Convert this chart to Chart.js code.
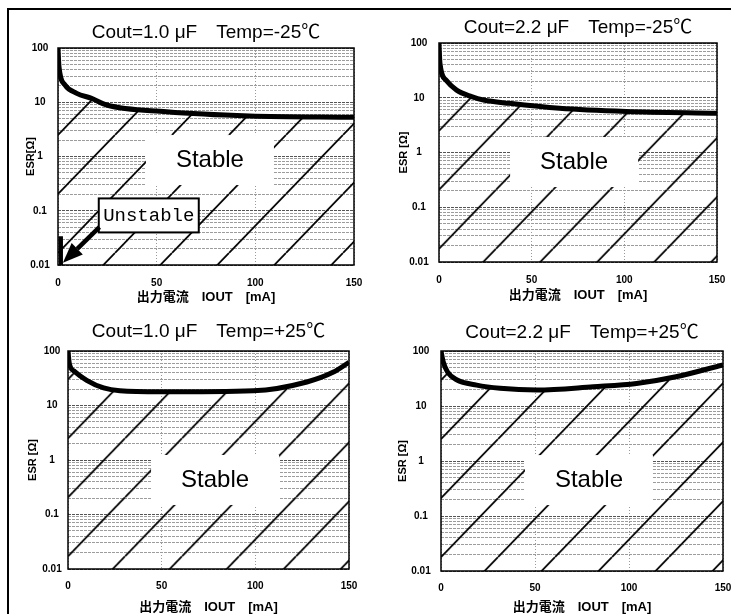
<!DOCTYPE html>
<html lang="ja">
<head>
<meta charset="UTF-8">
<title>ESR - IOUT 安定領域</title>
<script src="https://cdn.jsdelivr.net/npm/chart.js"></script>
<style>
    body {
        margin: 0;
        width: 731px;
        height: 614px;
        background: #fff;
        position: relative;
        overflow: hidden;
    }
    .frame {
        position: absolute;
        left: 7px;
        top: 8px;
        width: 760px;
        height: 640px;
        border-left: 2px solid #000;
        border-top: 2px solid #000;
    }
    canvas {
        position: absolute;
    }
</style>
</head>
<body>
<div class="frame"></div>
<canvas id="p1"></canvas>
<canvas id="p2"></canvas>
<canvas id="p3"></canvas>
<canvas id="p4"></canvas>

<script>
// 境界曲線 (IOUT [mA], ESR [Ω]) 読み取り値
const iout1 = [0, 0.5, 3.5, 9.5, 17, 24.6, 55, 97, 150];
const esr1 = [100, 45, 21, 14.6, 11.8, 8.9, 6.7, 5.6, 5.3];

const iout2 = [0, 0.5, 3.8, 9.5, 17.6, 24, 38, 65, 101, 150];
const esr2 = [100, 43, 21, 13.8, 10.5, 9.1, 7.9, 6.4, 5.6, 5.2];

const iout3 = [0, 0.7, 3.6, 10, 19, 27.7, 49, 99, 127.5, 141.7, 150];
const esr3 = [100, 59, 42, 29, 21, 18.6, 17.8, 18.6, 27, 41, 62];

const iout4 = [0, 1.2, 3.4, 8.3, 19, 31.4, 51, 81, 104, 125, 150];
const esr4 = [100, 63, 42, 30, 24, 21, 19.5, 22.4, 25.7, 34, 56];

// Cout=1.0uF, -25C の不安定領域 (0 mA 付近)
const unstableIout = [1.2, 1.5];
const unstableEsr = [0.034, 0.01];

// 目盛
const ioutTicks = [0, 50, 100, 150];
const esrDecades = [0.01, 0.1, 1, 10, 100];
const esrMinor = [1, 2, 3, 4, 5, 6, 7, 8, 9];

const xTitle = "出力電流　IOUT　[mA]";

const esrGrid = [];
esrDecades.forEach(d => {
    esrMinor.forEach(k => {
        const v = +(d * k).toPrecision(3);
        if (v <= 100) esrGrid.push(v);
    });
});

Chart.defaults.color = "#000";
Chart.defaults.font.family = "'Liberation Sans', 'Noto Sans CJK JP', sans-serif";

const hatchAnchor = [0, 2.5];   // 斜線が通る点 (mA, Ω)

function hatchFill(c) {
    const chart = c.chart;
    const sx = chart.scales.x, sy = chart.scales.y;
    if (!sx || !sy || !chart.chartArea) return "rgba(0,0,0,0)";
    const w = 57, h = 59;
    const tile = document.createElement("canvas");
    tile.width = w;
    tile.height = h;
    const g = tile.getContext("2d");
    g.strokeStyle = "#000";
    g.lineWidth = 1.8;
    g.beginPath();
    [-1, 0, 1].forEach(k => {
        g.moveTo(k * w, h);
        g.lineTo((k + 1) * w, 0);
    });
    g.stroke();
    const pat = chart.ctx.createPattern(tile, "repeat");
    pat.setTransform(new DOMMatrix().translate(
        sx.getPixelForValue(hatchAnchor[0]), sy.getPixelForValue(hatchAnchor[1])));
    return pat;
}

const decor = {
    id: "decor",
    afterDatasetsDraw(chart, args, opts) {
        const { ctx, chartArea: a, scales: { x, y } } = chart;
        ctx.save();

        // Stable ラベル
        const sx = x.getPixelForValue(opts.stable[0]);
        const sy = y.getPixelForValue(opts.stable[1]);
        ctx.fillStyle = "#fff";
        ctx.fillRect(sx - 64, sy - 25, 128, 50);
        ctx.fillStyle = "#000";
        ctx.font = "24px 'Liberation Sans'";
        ctx.textAlign = "center";
        ctx.textBaseline = "middle";
        ctx.fillText("Stable", sx, sy);

        if (opts.unstable) {
            const bx = x.getPixelForValue(opts.unstable.box[0]);
            const by = y.getPixelForValue(opts.unstable.box[1]);
            ctx.fillStyle = "#fff";
            ctx.fillRect(bx - 50, by - 17, 100, 34);
            ctx.lineWidth = 2;
            ctx.strokeStyle = "#000";
            ctx.strokeRect(bx - 50, by - 17, 100, 34);
            ctx.fillStyle = "#000";
            ctx.font = "19px 'Liberation Mono'";
            ctx.fillText("Unstable", bx, by + 1);

            // 矢印
            const x0 = x.getPixelForValue(opts.unstable.from[0]);
            const y0 = y.getPixelForValue(opts.unstable.from[1]);
            const x1 = x.getPixelForValue(opts.unstable.to[0]);
            const y1 = y.getPixelForValue(opts.unstable.to[1]);
            const ang = Math.atan2(y1 - y0, x1 - x0);
            const head = 20, half = 8;
            const hx = x1 - head * Math.cos(ang), hy = y1 - head * Math.sin(ang);
            ctx.lineWidth = 4.5;
            ctx.beginPath();
            ctx.moveTo(x0, y0);
            ctx.lineTo(hx, hy);
            ctx.stroke();
            ctx.beginPath();
            ctx.moveTo(x1, y1);
            ctx.lineTo(hx + half * Math.sin(ang), hy - half * Math.cos(ang));
            ctx.lineTo(hx - half * Math.sin(ang), hy + half * Math.cos(ang));
            ctx.closePath();
            ctx.fill();
        }

        // 枠
        ctx.lineWidth = 1.5;
        ctx.strokeStyle = "#000";
        ctx.strokeRect(a.left, a.top, a.right - a.left, a.bottom - a.top);
        ctx.restore();
    }
};

const panels = [
    { id: "p1", title: "Cout=1.0 μF　Temp=-25℃", yTitle: "ESR[Ω]", xs: iout1, ys: esr1,
      plot: [58, 48, 354, 265], titleY: 33, tickY: 283, xTitleY: 297, yTitleX: 31, yTickX: 40,
      stable: [77, 0.86],
      unstable: { box: [46, 0.082], from: [21, 0.05], to: [2.5, 0.011] } },
    { id: "p2", title: "Cout=2.2 μF　Temp=-25℃", yTitle: "ESR [Ω]", xs: iout2, ys: esr2,
      plot: [439, 43, 717, 262], titleY: 28, tickY: 280, xTitleY: 295, yTitleX: 404, yTickX: 419,
      stable: [72.9, 0.67] },
    { id: "p3", title: "Cout=1.0 μF　Temp=+25℃", yTitle: "ESR [Ω]", xs: iout3, ys: esr3,
      plot: [68, 351, 349, 569], titleY: 332, tickY: 586, xTitleY: 607, yTitleX: 33, yTickX: 52,
      stable: [78.5, 0.43] },
    { id: "p4", title: "Cout=2.2 μF　Temp=+25℃", yTitle: "ESR [Ω]", xs: iout4, ys: esr4,
      plot: [441, 351, 723, 571], titleY: 333, tickY: 588, xTitleY: 607, yTitleX: 403, yTickX: 421,
      stable: [78.7, 0.45] }
];

function criarPainel(p) {
    const [L, T, R, B] = p.plot;
    const left = p.yTitleX - 14, top = p.titleY - 16;
    const right = R + 12, bottom = p.xTitleY + 12;
    const cv = document.getElementById(p.id);
    cv.width = right - left;
    cv.height = bottom - top;
    cv.style.left = left + "px";
    cv.style.top = top + "px";
    cv.style.width = (right - left) + "px";
    cv.style.height = (bottom - top) + "px";

    const datasets = [{
        data: p.xs.map((v, i) => ({ x: v, y: p.ys[i] })),
        borderColor: "#000",
        borderWidth: 5,
        pointRadius: 0,
        fill: "start",
        backgroundColor: hatchFill,
        cubicInterpolationMode: "monotone"
    }];
    if (p.unstable) {
        datasets.push({
            data: unstableIout.map((v, i) => ({ x: v, y: unstableEsr[i] })),
            borderColor: "#000",
            borderWidth: 4,
            pointRadius: 0,
            fill: false
        });
    }

    const tickFont = { size: 10, weight: "bold" };
    const titleLh = 19 * 1.2;

    new Chart(cv, {
        type: "line",
        data: { datasets },
        plugins: [decor],
        options: {
            responsive: false,
            animation: false,
            layout: { padding: { left: 0, top: 0, right: right - R, bottom: 0 } },
            plugins: {
                legend: { display: false },
                tooltip: { enabled: false },
                title: {
                    display: true,
                    text: p.title,
                    fullSize: false,
                    font: { size: 19, weight: "normal" },
                    padding: { top: p.titleY - top - titleLh / 2, bottom: T - p.titleY - titleLh / 2 }
                },
                decor: { stable: p.stable, unstable: p.unstable }
            },
            scales: {
                x: {
                    type: "linear",
                    min: 0,
                    max: 150,
                    afterFit: s => {
                        s.height = bottom - B;
                        s.paddingLeft = 0;
                        s.paddingRight = 0;
                    },
                    afterBuildTicks: s => { s.ticks = ioutTicks.map(v => ({ value: v })); },
                    ticks: { font: tickFont, padding: p.tickY - B - 6, maxRotation: 0, autoSkip: false },
                    grid: { color: "#9a9a9a", lineWidth: 1, drawTicks: false },
                    border: { display: false, dash: [1, 2] },
                    title: {
                        display: true,
                        text: xTitle,
                        font: { size: 13, weight: "bold" },
                        padding: { top: 0, bottom: bottom - p.xTitleY - 7.8 }
                    }
                },
                y: {
                    type: "logarithmic",
                    min: 0.01,
                    max: 100,
                    afterFit: s => { s.width = L - left; },
                    afterBuildTicks: s => { s.ticks = esrGrid.map(v => ({ value: v })); },
                    ticks: {
                        font: tickFont,
                        crossAlign: "center",
                        autoSkip: false,
                        padding: L - p.yTickX - 9.7,
                        callback: v => esrDecades.includes(v) ? String(v) : ""
                    },
                    grid: {
                        color: c => esrDecades.includes(c.tick.value) ? "#555" : "#9c9c9c",
                        lineWidth: 1,
                        drawTicks: false
                    },
                    border: { display: false, dash: [3, 1] },
                    title: {
                        display: true,
                        text: p.yTitle,
                        font: { size: 11, weight: "bold" },
                        padding: { top: p.yTitleX - left - 6.6, bottom: 0 }
                    }
                }
            }
        }
    });
}

panels.forEach(criarPainel);
</script>
</body>
</html>
